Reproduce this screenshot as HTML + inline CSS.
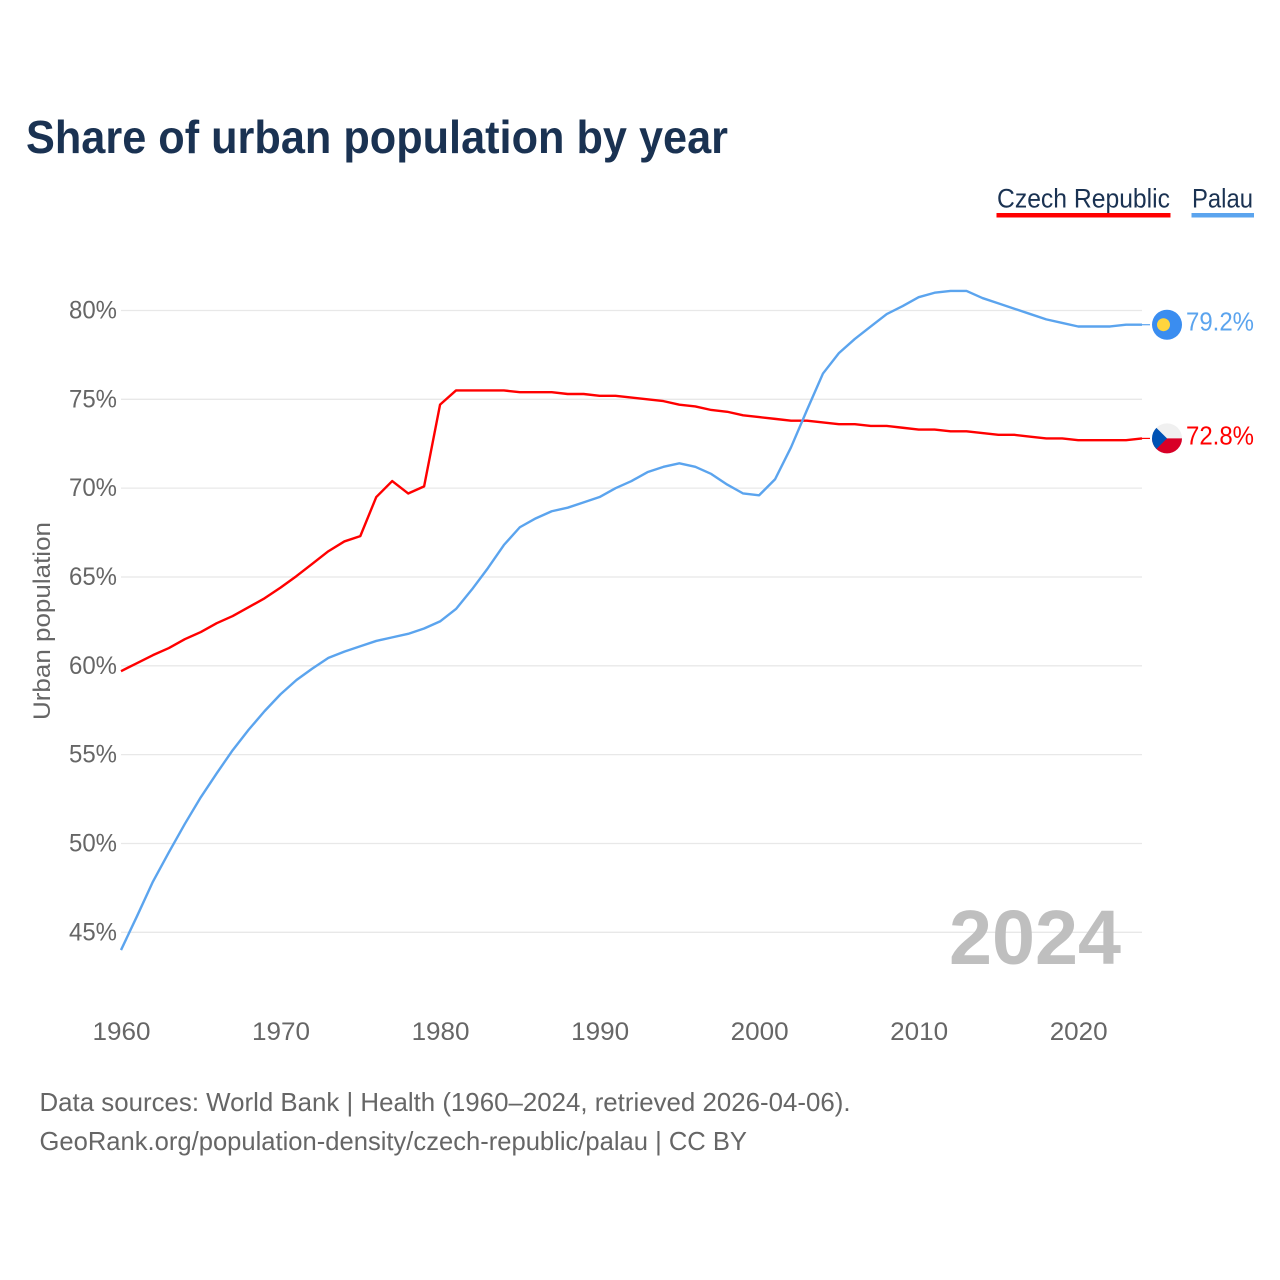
<!DOCTYPE html>
<html lang="en">
<head>
<meta charset="utf-8">
<title>Share of urban population by year</title>
<style>
html,body{margin:0;padding:0;background:#fff;width:1280px;height:1280px;overflow:hidden}
svg{display:block}
text{font-family:"Liberation Sans",sans-serif}
</style>
</head>
<body>
<svg id="chart" xmlns="http://www.w3.org/2000/svg" width="1280" height="1280" viewBox="0 0 1280 1280">
  <rect width="1280" height="1280" fill="#ffffff"/>
  <text x="26" y="153" font-size="46" font-weight="700" fill="#1a3252" textLength="702" lengthAdjust="spacingAndGlyphs">Share of urban population by year</text>

  <g>
    <g>
      <text x="997" y="207.5" font-size="27" fill="#1a3252" textLength="173" lengthAdjust="spacingAndGlyphs">Czech Republic</text>
      <rect x="996.5" y="213" width="174" height="4.5" fill="#ff0000"/>
    </g>
    <g>
      <text x="1192" y="207.5" font-size="27" fill="#1a3252" textLength="61" lengthAdjust="spacingAndGlyphs">Palau</text>
      <rect x="1191.5" y="213" width="62.5" height="4.5" fill="#5ba4ee"/>
    </g>
  </g>

  <g id="grid"></g>
  <g id="y-axis"></g>
  <g id="x-axis"></g>

  <text transform="translate(50,621) rotate(-90)" text-anchor="middle" font-size="24" fill="#666666" textLength="198" lengthAdjust="spacingAndGlyphs">Urban population</text>

  <text x="949" y="964" font-size="77" font-weight="700" fill="#bfbfbf" textLength="172" lengthAdjust="spacingAndGlyphs">2024</text>

  <g id="series"></g>

  <g id="flag-palau">
    <circle cx="1167" cy="0" r="15" fill="#3a8df0"/>
    <circle cx="1163.5" cy="0" r="6.5" fill="#ffd53d"/>
  </g>
  <g id="flag-czech">
    <circle cx="1167" cy="0" r="15" fill="#f0f0f0"/>
    <path d="M1152 0H1182A15 15 0 0 1 1152 0Z" fill="#d80027"/>
    <path d="M1156.4 -10.6L1167 0L1156.4 10.6A15 15 0 0 1 1156.4 -10.6Z" fill="#0052b4"/>
  </g>

  <text id="value-palau" x="1186" font-size="26" fill="#5ba4ee" textLength="68" lengthAdjust="spacingAndGlyphs"></text>
  <text id="value-czech" x="1186" font-size="26" fill="#ff0000" textLength="68" lengthAdjust="spacingAndGlyphs"></text>

  <text x="39.5" y="1111" font-size="26" fill="#666666" textLength="811" lengthAdjust="spacingAndGlyphs">Data sources: World Bank | Health (1960–2024, retrieved 2026-04-06).</text>
  <text x="39.5" y="1150" font-size="26" fill="#666666" textLength="707.5" lengthAdjust="spacingAndGlyphs">GeoRank.org/population-density/czech-republic/palau | CC BY</text>
</svg>

<script>
const startYear = 1960;
const yTicks = [45, 50, 55, 60, 65, 70, 75, 80];
const xTicks = [1960, 1970, 1980, 1990, 2000, 2010, 2020];
const czechValues = [
  59.7, 60.15, 60.6, 61.0, 61.5, 61.9, 62.4, 62.8, 63.3, 63.8,
  64.4, 65.05, 65.75, 66.45, 67.0, 67.3, 69.5, 70.4, 69.7, 70.1,
  74.7, 75.5, 75.5, 75.5, 75.5, 75.4, 75.4, 75.4, 75.3, 75.3,
  75.2, 75.2, 75.1, 75.0, 74.9, 74.7, 74.6, 74.4, 74.3, 74.1,
  74.0, 73.9, 73.8, 73.8, 73.7, 73.6, 73.6, 73.5, 73.5, 73.4,
  73.3, 73.3, 73.2, 73.2, 73.1, 73.0, 73.0, 72.9, 72.8, 72.8,
  72.7, 72.7, 72.7, 72.7, 72.8
];
const palauValues = [
  44.0, 45.9, 47.85, 49.5, 51.1, 52.6, 53.95, 55.25, 56.4, 57.45,
  58.4, 59.2, 59.85, 60.45, 60.8, 61.1, 61.4, 61.6, 61.8, 62.1,
  62.5, 63.2, 64.3, 65.5, 66.8, 67.8, 68.3, 68.7, 68.9, 69.2,
  69.5, 70.0, 70.4, 70.9, 71.2, 71.4, 71.2, 70.8, 70.2, 69.7,
  69.6, 70.5, 72.3, 74.4, 76.45, 77.6, 78.4, 79.1, 79.8, 80.25,
  80.75, 81.0, 81.1, 81.1, 80.7, 80.4, 80.1, 79.8, 79.5, 79.3,
  79.1, 79.1, 79.1, 79.2, 79.2
];

const NS = 'http://www.w3.org/2000/svg';
function xScale(year) { return 121 + (year - 1960) * (1142 - 121) / 64; }
function yScale(pct) { return 310.5 + (80 - pct) * (932.3 - 310.5) / 35; }
function make(tag, attrs, parent) {
  const el = document.createElementNS(NS, tag);
  for (const k in attrs) el.setAttribute(k, attrs[k]);
  parent.appendChild(el);
  return el;
}

const gridGroup = document.getElementById('grid');
const yAxisGroup = document.getElementById('y-axis');
const xAxisGroup = document.getElementById('x-axis');
const seriesGroup = document.getElementById('series');

yTicks.forEach(function (t) {
  const line = make('line', {x1: 121, x2: 1142, y1: yScale(t), y2: yScale(t), stroke: '#e8e8e8', 'stroke-width': 1.3}, gridGroup);
  
  
  const label = make('text', {x: 69, y: yScale(t) + 8, 'font-size': 25, fill: '#666666', textLength: 48, lengthAdjust: 'spacingAndGlyphs'}, yAxisGroup);
  label.textContent = t + '%';
  
  
});

xTicks.forEach(function (t) {
  const label = make('text', {x: xScale(t) + 0.5, y: 1040, 'text-anchor': 'middle', 'font-size': 25, fill: '#666666', textLength: 58, lengthAdjust: 'spacingAndGlyphs'}, xAxisGroup);
  label.textContent = t;
  
  
});

function linePoints(values) {
  return values.map(function (v, i) {
    return xScale(startYear + i).toFixed(2) + ',' + yScale(v).toFixed(2);
  }).join(' ');
}

const czechLine = make('polyline', {points: linePoints(czechValues), fill: 'none', stroke: '#ff0000', 'stroke-width': 2.4, 'stroke-linejoin': 'round'}, seriesGroup);



const palauLine = make('polyline', {points: linePoints(palauValues), fill: 'none', stroke: '#5ba4ee', 'stroke-width': 2.4, 'stroke-linejoin': 'round'}, seriesGroup);



const czechLast = czechValues[czechValues.length - 1];
const palauLast = palauValues[palauValues.length - 1];

const czechLeader = make('line', {x1: 1142, x2: 1150, y1: yScale(czechLast), y2: yScale(czechLast), stroke: '#ff0000', 'stroke-width': 1.2}, seriesGroup);



const palauLeader = make('line', {x1: 1142, x2: 1150, y1: yScale(palauLast), y2: yScale(palauLast), stroke: '#5ba4ee', 'stroke-width': 1.2}, seriesGroup);



document.getElementById('flag-palau').setAttribute('transform', 'translate(0,' + yScale(palauLast) + ')');
document.getElementById('flag-czech').setAttribute('transform', 'translate(0,' + yScale(czechLast) + ')');

const palauText = document.getElementById('value-palau');
palauText.setAttribute('y', yScale(palauLast) + 6);
palauText.textContent = palauLast.toFixed(1) + '%';

const czechText = document.getElementById('value-czech');
czechText.setAttribute('y', yScale(czechLast) + 6);
czechText.textContent = czechLast.toFixed(1) + '%';
</script>
</body>
</html>
